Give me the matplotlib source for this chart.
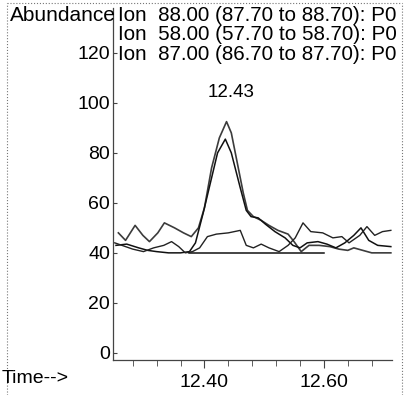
import numpy as np
import matplotlib
matplotlib.use("Agg")
import matplotlib.pyplot as plt
from matplotlib.lines import Line2D

plt.rcParams['font.family'] = ['Liberation Sans', 'DejaVu Sans']

# ion traces (time in min, abundance)
ion88_t = [12.256, 12.268, 12.284, 12.297, 12.308, 12.322, 12.333, 12.350, 12.365, 12.378,
           12.390, 12.400, 12.412, 12.425, 12.437, 12.445, 12.455, 12.465, 12.472, 12.482,
           12.495, 12.508, 12.523, 12.540, 12.550, 12.562, 12.575, 12.592, 12.610, 12.625,
           12.640, 12.650, 12.665, 12.680, 12.712]
ion88_y = [48, 45, 51, 47, 44.5, 48, 52, 50, 48, 46.5,
           50, 58, 74, 86, 92.5, 88, 76, 64, 57, 54.5,
           53, 51, 49, 47.5, 44.5, 40.5, 43, 43, 42.5, 41.5,
           41, 42, 41, 40, 40]

ion58_t = [12.252, 12.270, 12.290, 12.305, 12.320, 12.340, 12.360, 12.375, 12.385, 12.398,
           12.410, 12.422, 12.435, 12.445, 12.460, 12.470, 12.478, 12.490, 12.502, 12.518,
           12.535, 12.548, 12.560, 12.572, 12.590, 12.605, 12.620, 12.635, 12.650, 12.662,
           12.675, 12.690, 12.712]
ion58_y = [43, 43.5, 42, 41, 40.5, 40, 40, 40.5, 44, 56,
           68, 80, 85.5, 80, 66, 57, 54.5, 54, 51.5, 48.5,
           46, 43, 42, 44, 44.5, 43.5, 42, 44, 47, 50,
           45, 43, 42.5]

ion87_t = [12.250, 12.262, 12.280, 12.298, 12.315, 12.332, 12.345, 12.357, 12.368, 12.380,
           12.392, 12.405, 12.420, 12.440, 12.460, 12.470, 12.482, 12.495, 12.508, 12.525,
           12.540, 12.552, 12.565, 12.578, 12.598, 12.615, 12.630, 12.642, 12.660, 12.672,
           12.685, 12.698, 12.712]
ion87_y = [44, 43, 41.5, 40.5, 42, 43, 44.5, 42.5, 40, 40.5,
           42, 46.5, 47.5, 48, 49, 43, 42, 43.5, 42, 40.5,
           43, 46, 52, 48.5, 48, 46, 46.5, 44, 47, 50.5,
           47, 48.5, 49]

# integration baseline under the peak
base_t = [12.375, 12.600]
base_y = [40, 40]

peak_rt = 12.43
yticks = [0, 20, 40, 60, 80, 100, 120]
xticks = [12.40, 12.60]
ion_labels = ["Ion  88.00 (87.70 to 88.70): P0",
              "Ion  58.00 (57.70 to 58.70): P0",
              "Ion  87.00 (86.70 to 87.70): P0"]

fig = plt.figure(figsize=(4.05, 3.95), dpi=100)
ax = fig.add_axes([0.279, 0.089, 0.689, 0.891])

ax.plot(ion88_t, ion88_y, color="#3c3c3c", lw=1.2)
ax.plot(ion58_t, ion58_y, color="#111111", lw=1.1)
ax.plot(ion87_t, ion87_y, color="#222222", lw=1.0)
ax.plot(base_t, base_y, color="#111111", lw=1.1)

ax.set_xlim(12.247, 12.714)
ax.set_ylim(-2.8, 138)

ax.set_yticks(yticks)
ax.set_yticklabels([str(v) for v in yticks], fontsize=14)
ax.set_xticks(xticks)
ax.set_xticklabels(["%.2f" % v for v in xticks], fontsize=14)
ax.set_xticks(np.arange(12.28, 12.70, 0.04), minor=True)
ax.tick_params(axis="x", which="major", direction="out", length=6, pad=4, color="#444")
ax.tick_params(axis="x", which="minor", direction="out", length=4, color="#444")
ax.tick_params(axis="y", direction="in", length=3, pad=2, color="#444")

for s in ["top", "right"]:
    ax.spines[s].set_visible(False)
for s in ["left", "bottom"]:
    ax.spines[s].set_color("#444444")
    ax.spines[s].set_linewidth(0.9)

# retention time label over the apex
ax.text(12.444, 104, "%.2f" % peak_rt, ha="center", va="center", fontsize=13.5)

# header text
fig.text(0.025, 0.962, "Abundance", fontsize=15, ha="left", va="center")
for i, lab in enumerate(ion_labels):
    fig.text(0.291, 0.962 - i * 0.05, lab, fontsize=14.9, ha="left", va="center")
fig.text(0.005, 0.043, "Time-->", fontsize=14, ha="left", va="center")

# dotted page frame
fig.add_artist(Line2D([0.017, 0.017], [0.0, 0.993], transform=fig.transFigure,
                      color="#777", lw=0.8, ls=":"))
fig.add_artist(Line2D([0.993, 0.993], [0.0, 0.993], transform=fig.transFigure,
                      color="#777", lw=0.8, ls=":"))
fig.add_artist(Line2D([0.017, 0.993], [0.993, 0.993], transform=fig.transFigure,
                      color="#777", lw=0.8, ls=":"))

fig.savefig("out.png", dpi=100)
